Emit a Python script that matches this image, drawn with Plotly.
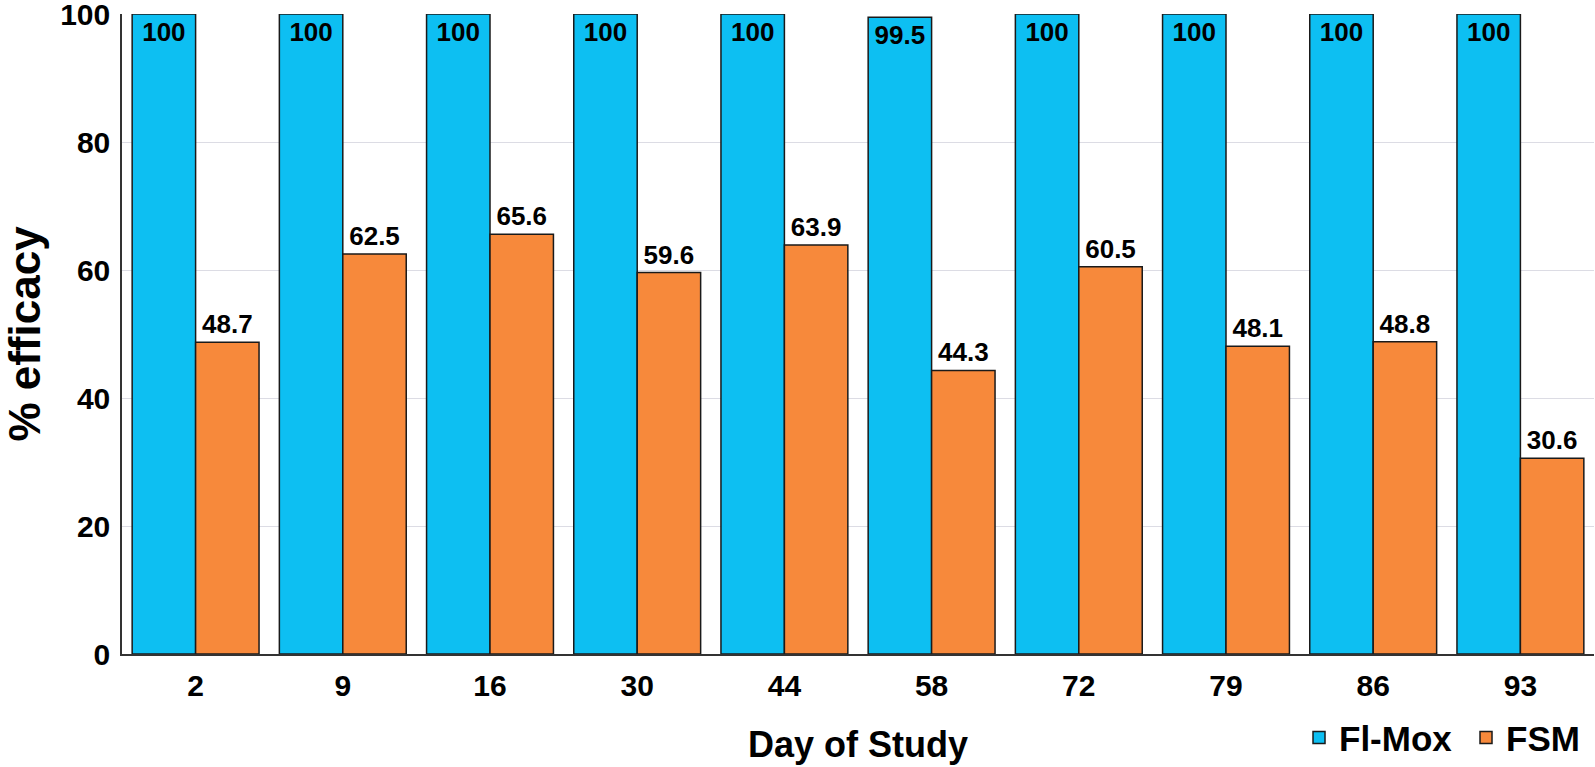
import plotly.graph_objects as go

days = ["2", "9", "16", "30", "44", "58", "72", "79", "86", "93"]
fl_mox = [100, 100, 100, 100, 100, 99.5, 100, 100, 100, 100]
fsm = [48.7, 62.5, 65.6, 59.6, 63.9, 44.3, 60.5, 48.1, 48.8, 30.6]
y_ticks = [0, 20, 40, 60, 80, 100]

FONT = "Arial, Liberation Sans, sans-serif"

fig = go.Figure()
fig.add_trace(go.Bar(
    x=days, y=fl_mox, name="Fl-Mox",
    marker=dict(color="#0DBFF2", line=dict(color="#1a1a1a", width=1.5)),
    text=[f"{v:g}" for v in fl_mox], textposition="inside",
    insidetextanchor="end", textangle=0,
    textfont=dict(family=FONT, size=26, color="black", weight="bold"),
    cliponaxis=False,
))
fig.add_trace(go.Bar(
    x=days, y=fsm, name="FSM",
    marker=dict(color="#F7893B", line=dict(color="#1a1a1a", width=1.5)),
    text=[f"{v:g}" for v in fsm], textposition="outside", textangle=0,
    textfont=dict(family=FONT, size=26, color="black", weight="bold"),
    cliponaxis=False,
))

fig.update_layout(
    width=1595, height=767,
    barmode="group", bargap=0.138, bargroupgap=0,
    plot_bgcolor="white", paper_bgcolor="white",
    margin=dict(l=122, r=1, t=14, b=113, autoexpand=False),
    font=dict(family=FONT, color="black"),
    uniformtext=dict(minsize=8, mode="show"),
    legend=dict(
        orientation="h", x=0.7996, xanchor="left", y=-0.131, yanchor="middle",
        font=dict(family=FONT, size=35, color="black", weight="bold"),
        itemwidth=30, entrywidth=122, tracegroupgap=0, bgcolor="rgba(0,0,0,0)",
    ),
    xaxis=dict(
        type="category", showline=True, linecolor="#333", linewidth=1.5,
        ticks="", tickfont=dict(family=FONT, size=30, weight="bold"), ticklabelstandoff=4,
        title=dict(text="Day of Study", font=dict(family=FONT, size=36, weight="bold"), standoff=31),
    ),
    yaxis=dict(
        range=[0, 100], tickvals=y_ticks, showgrid=True, gridcolor="#dcdce4", gridwidth=1,
        showline=True, linecolor="#333", linewidth=1.5, zeroline=False,
        ticks="", tickfont=dict(family=FONT, size=30, weight="bold"), ticklabelstandoff=4,
        ticklabeloverflow="allow",
        title=dict(text="% efficacy", font=dict(family=FONT, size=44, weight="bold"), standoff=31),
    ),
)

fig.write_html(
    "out.html",
    config={"displayModeBar": False},
    post_script="document.body.style.margin='0';document.body.style.overflow='hidden';",
)
